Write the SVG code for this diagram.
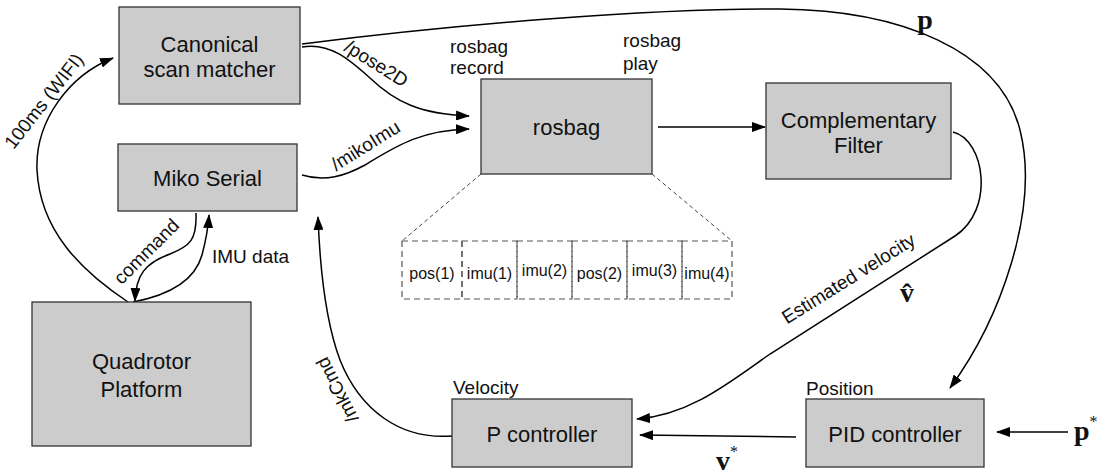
<svg xmlns="http://www.w3.org/2000/svg" width="1106" height="475" viewBox="0 0 1106 475">
<defs>
<marker id="ah" markerWidth="14" markerHeight="10" refX="13" refY="5" orient="auto" markerUnits="userSpaceOnUse">
<path d="M0,0 L14,5 L0,10 Z" fill="#000"/>
</marker>
<style>
.box{fill:#cccccc;stroke:#333;stroke-width:1.3}
.nt{font-family:"Liberation Sans",Arial,sans-serif;font-size:22px;fill:#111;text-anchor:middle}
.lb{font-family:"Liberation Sans",Arial,sans-serif;font-size:19px;fill:#111}
.cl{font-family:"Liberation Sans",Arial,sans-serif;font-size:16px;fill:#111;text-anchor:middle}
.m{font-family:"Liberation Serif","Times New Roman",serif;font-size:28px;font-weight:bold;fill:#111}
.c{fill:none;stroke:#000;stroke-width:1.5}
.ca{fill:none;stroke:#000;stroke-width:1.5;marker-end:url(#ah)}
.d{fill:none;stroke:#555;stroke-width:1.2;stroke-dasharray:6,4}
.dt{fill:none;stroke:#444;stroke-width:1;stroke-dasharray:4,3}
</style>
</defs>
<rect width="1106" height="475" fill="#fff"/>

<g id="connectors">
<path class="ca" d="M302,44 C450,25 650,8 780,9 C900,10 1000,50 1020,130 C1040,210 1000,320 950,388"/>
<path class="ca" d="M302,47 C330,42 350,60 370,78 C395,102 420,114 469,116"/>
<path class="ca" d="M302,175 C325,182 345,176 365,165 C395,147 420,130 469,129"/>
<path class="ca" d="M658,127 L765,127"/>
<path class="ca" d="M953,132 C985,140 995,210 955,236 L770,354 C730,382 690,415 637,419"/>
<path class="ca" d="M796,437 L640,435"/>
<path class="ca" d="M1068,432 L997,432"/>
<path class="ca" d="M452,436 C400,440 360,410 340,360 C325,320 320,270 318,217"/>
<path class="ca" d="M196,213 C197,240 190,246 170,254 C145,263 136,275 135,301"/>
<path class="ca" d="M133,302 C170,295 195,280 202,255 C206,240 208,230 209,215"/>
<path class="ca" d="M128,302 C80,270 40,230 37,170 C35,120 70,75 113,58"/>
<path class="dt" d="M481,174 L402,241"/>
<path class="dt" d="M652,174 L732,241"/>
<text class="lb" text-anchor="middle" transform="translate(373,69) rotate(32)">/pose2D</text>
<text class="lb" text-anchor="middle" font-size="18" transform="translate(369,151) rotate(-32)">/mikoImu</text>
<text class="lb" text-anchor="middle" font-size="20" transform="translate(852,284) rotate(-32)">Estimated velocity</text>
<text class="lb" text-anchor="middle" transform="translate(343,387) rotate(-117)">/mkCmd</text>
<text class="lb" text-anchor="middle" font-size="18" transform="translate(49,105) rotate(-52)">100ms (WIFI)</text>
<text class="lb" text-anchor="middle" transform="translate(151,256) rotate(-45)">command</text>
<text class="lb" x="212" y="263">IMU data</text>
<text class="m" x="925" y="29" text-anchor="middle">p</text>
<text class="m" x="907" y="302" text-anchor="middle">v̂</text>
<text class="m" x="716" y="470">v<tspan font-size="16" font-weight="normal" dy="-13">*</tspan></text>
<text class="m" x="1074" y="440">p<tspan font-size="16" font-weight="normal" dy="-13">*</tspan></text>
</g>

<g id="canonical">
<rect class="box" x="119" y="7" width="181" height="97"/>
<text class="nt" x="209.5" y="52">Canonical</text>
<text class="nt" x="209.5" y="77">scan matcher</text>
</g>
<g id="miko">
<rect class="box" x="118" y="144" width="179" height="67"/>
<text class="nt" x="207.5" y="186">Miko Serial</text>
</g>
<g id="rosbag">
<rect class="box" x="481" y="79" width="171" height="95"/>
<text class="nt" x="566.5" y="135">rosbag</text>
<text class="lb" x="450" y="53">rosbag</text>
<text class="lb" x="450" y="74">record</text>
<text class="lb" x="623" y="47">rosbag</text>
<text class="lb" x="623" y="70">play</text>
</g>
<g id="complementary">
<rect class="box" x="766" y="83" width="185" height="96"/>
<text class="nt" x="858.5" y="128">Complementary</text>
<text class="nt" x="858.5" y="153">Filter</text>
</g>
<g id="quadrotor">
<rect class="box" x="32" y="302" width="219" height="144"/>
<text class="nt" x="141.5" y="369">Quadrotor</text>
<text class="nt" x="141.5" y="397">Platform</text>
</g>
<g id="pcontroller">
<rect class="box" x="452" y="399" width="180" height="68"/>
<text class="nt" x="542" y="442">P controller</text>
<text class="lb" x="453" y="394">Velocity</text>
</g>
<g id="pidcontroller">
<rect class="box" x="806" y="399" width="178" height="68"/>
<text class="nt" x="895" y="442">PID controller</text>
<text class="lb" x="806" y="395">Position</text>
</g>
<g id="buffer">
<rect class="d" x="402" y="241" width="60" height="58"/>
<rect class="d" x="462" y="241" width="55" height="58"/>
<rect class="d" x="517" y="241" width="55" height="58"/>
<rect class="d" x="572" y="241" width="55" height="58"/>
<rect class="d" x="627" y="241" width="55" height="58"/>
<rect class="d" x="682" y="241" width="50" height="58"/>
<text class="cl" x="432" y="279">pos(1)</text>
<text class="cl" x="489.5" y="279">imu(1)</text>
<text class="cl" x="544.5" y="276">imu(2)</text>
<text class="cl" x="599.5" y="279">pos(2)</text>
<text class="cl" x="654.5" y="276">imu(3)</text>
<text class="cl" x="707" y="279">imu(4)</text>
</g>
</svg>
